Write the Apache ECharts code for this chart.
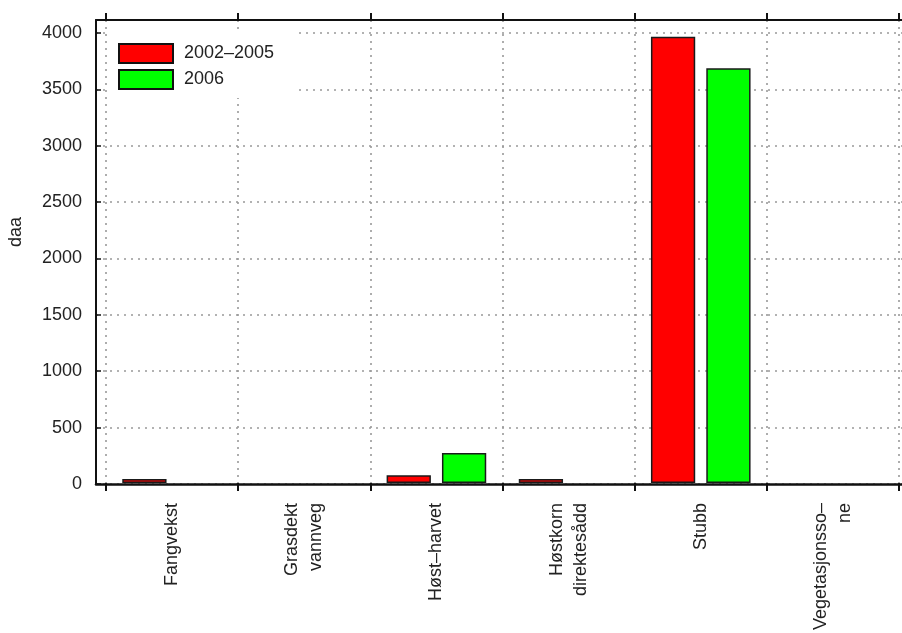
<!DOCTYPE html>
<html>
<head>
<meta charset="utf-8">
<script src="https://cdn.jsdelivr.net/npm/echarts@6/dist/echarts.min.js"></script>
<style>
  html, body { margin: 0; padding: 0; background: #fff; }
  #chart { width: 902px; height: 633px; }
</style>
</head>
<body>
<div id="chart"></div>
<script>
// Areal (daa) per tiltak, snitt 2002–2005 mot 2006
const categories = ['Fangvekst', 'Grasdekt\nvannveg', 'Høst\u2013harvet', 'Høstkorn\ndirektesådd', 'Stubb', 'Vegetasjonsso\u2013\nne'];
const seriesNames = ['2002\u20132005', '2006'];
const values2002_2005 = [35, 0, 68, 35, 3965, 0];
const values2006 = [0, 0, 265, 0, 3685, 0];
const yTickStep = 500;
const yMax = 4115;

const FONT = '"Liberation Sans", Arial, Helvetica, sans-serif';
const TEXT = '#222';
const dotted = { color: '#999', width: 1.6, type: [2, 5] };

// empty bars get no outline, so nothing is stroked on the baseline
const barData = vals => vals.map(v => (v === 0 ? { value: v, itemStyle: { borderWidth: 0 } } : v));

const chart = echarts.init(document.getElementById('chart'), null, { renderer: 'canvas' });

chart.setOption({
  animation: false,
  backgroundColor: '#fff',
  textStyle: { fontFamily: FONT, color: TEXT },
  grid: [
    // frame and value axis
    { left: 96, right: -12, top: 20, bottom: 149 },
    // category bands
    { left: 106, right: 3, top: 20, bottom: 149 }
  ],
  legend: {
    orient: 'vertical',
    left: 110,
    top: 30,
    padding: [13, 20, 8, 8],
    backgroundColor: '#fff',
    itemWidth: 54,
    itemHeight: 19,
    itemGap: 5,
    icon: 'rect',
    selectedMode: false,
    z: 4,
    textStyle: { fontFamily: FONT, fontSize: 18, color: TEXT, padding: [0, 0, 0, 6] },
    itemStyle: { borderColor: '#111', borderWidth: 2 },
    data: seriesNames
  },
  xAxis: [
    { // bottom frame line
      type: 'value', gridIndex: 0, min: 0, max: 1, position: 'bottom', z: 10,
      axisLine: { show: true, lineStyle: { color: '#111', width: 2.5 } },
      axisTick: { show: false }, axisLabel: { show: false }, splitLine: { show: false }
    },
    { // top frame line
      type: 'value', gridIndex: 0, min: 0, max: 1, position: 'top', z: 10,
      axisLine: { show: true, lineStyle: { color: '#111', width: 2 } },
      axisTick: { show: false }, axisLabel: { show: false }, splitLine: { show: false }
    },
    { // categories, bottom ticks and labels
      type: 'category', gridIndex: 1, data: categories, position: 'bottom', boundaryGap: true,
      axisLine: { show: false },
      axisTick: { show: true, inside: false, length: 8, lineStyle: { color: '#111', width: 2 } },
      axisLabel: {
        interval: 0, rotate: 90, margin: 20,
        fontFamily: FONT, fontSize: 18, lineHeight: 24, color: TEXT
      },
      splitLine: { show: true, lineStyle: dotted }
    },
    { // categories, top ticks
      type: 'category', gridIndex: 1, data: categories, position: 'top', boundaryGap: true,
      axisLine: { show: false },
      axisTick: { show: true, inside: false, length: 7, lineStyle: { color: '#111', width: 2 } },
      axisLabel: { show: false },
      splitLine: { show: false }
    }
  ],
  yAxis: [
    {
      type: 'value', gridIndex: 0, min: 0, max: yMax, interval: yTickStep, z: 0,
      axisLine: { show: true, lineStyle: { color: '#111', width: 2 } },
      axisTick: { show: true, inside: true, length: 5, lineStyle: { color: '#111', width: 1.5 } },
      axisLabel: {
        showMaxLabel: false, margin: 14,
        fontFamily: FONT, fontSize: 18, color: TEXT,
        formatter: v => String(v)
      },
      splitLine: { show: true, lineStyle: dotted }
    },
    {
      type: 'value', gridIndex: 1, min: 0, max: yMax, show: false,
      splitLine: { show: false }
    }
  ],
  series: [
    {
      name: seriesNames[0], type: 'bar', xAxisIndex: 2, yAxisIndex: 1, z: 2,
      data: barData(values2002_2005),
      barWidth: '33.5%', barGap: '25%',
      itemStyle: { color: '#ff0000', borderColor: '#1a1a1a', borderWidth: 1.5 }
    },
    {
      name: seriesNames[1], type: 'bar', xAxisIndex: 2, yAxisIndex: 1, z: 2,
      data: barData(values2006),
      barWidth: '33.5%', barGap: '25%',
      itemStyle: { color: '#00ff00', borderColor: '#1a1a1a', borderWidth: 1.5 }
    }
  ],
  graphic: [
    {
      type: 'text', x: 16, y: 232, rotation: Math.PI / 2,
      style: {
        text: 'daa', fontFamily: FONT, fontSize: 18, fill: TEXT,
        align: 'center', verticalAlign: 'middle',
        textAlign: 'center', textVerticalAlign: 'middle'
      }
    }
  ]
});
</script>
</body>
</html>
